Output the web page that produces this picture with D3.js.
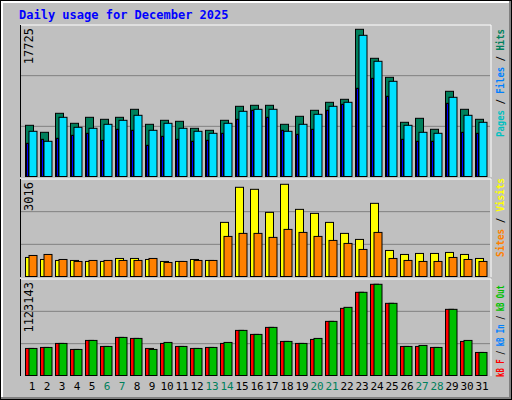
<!DOCTYPE html>
<html><head><meta charset="utf-8">
<script src="https://cdn.jsdelivr.net/npm/d3@7"></script>
<style>body{margin:0;background:#fff}svg{display:block}</style>
</head><body>
<script>
const days = d3.range(1, 32);
const weekends = [6,7,13,14,20,21,27,28];
const hits  = [6165,5322,7610,6406,7128,6888,7128,8092,6286,6767,6647,5804,5563,6767,8453,8573,8573,6286,7249,7971,8935,9296,17725,14233,11945,6526,7008,5684,10259,8092,6888];
const files = [5443,4239,7128,5924,5804,6286,6767,7369,5563,6406,5804,5443,5202,6406,7851,8092,8092,5443,6286,7490,8453,8935,17002,13872,11463,6165,5322,5202,9537,7369,6526];
const pages = [3998,4479,4600,4961,5202,4359,5684,5563,3757,4841,4479,4239,4359,5202,6888,7971,7128,5563,5082,5684,7971,8694,10620,11825,9657,4479,4239,4239,8814,5322,5202];
const visits= [623,557,525,525,492,492,590,590,557,492,492,557,525,1770,2918,2852,2098,3016,2196,2065,1770,1410,1213,2393,852,721,754,754,787,721,590];
const sites = [688,721,557,492,525,525,525,525,590,459,492,525,525,1311,1410,1410,1279,1541,1442,1311,1180,1082,885,1442,590,525,492,492,623,557,492];
const kbF   = [333241,345583,394952,320900,431979,357925,469006,456664,333241,394952,357925,333241,345583,394952,555402,506034,592427,419637,394952,444321,666480,826930,1024408,1123143,888640,357925,357925,345583,814588,419637,283872];
const kbIn  = days.map(()=>0);
const kbOut = [333241,345583,394952,320900,431979,357925,469006,456664,320900,407294,357925,333241,345583,407294,555402,506034,592427,419637,394952,456664,666480,839272,1024408,1123143,888640,357925,370267,345583,814588,431979,283872];
const maxLabels = ["17725","3016","1123143"];

const W=512,H=400;
const svg=d3.select("body").append("svg").attr("width",W).attr("height",H);
const font="'DejaVu Sans Mono', monospace";
svg.append("rect").attr("x",0).attr("y",0).attr("width",W).attr("height",H).attr("fill","#000");
svg.append("rect").attr("x",1).attr("y",1).attr("width",W-2).attr("height",H-2).attr("fill","#808080");
svg.append("rect").attr("x",1).attr("y",1).attr("width",W-4).attr("height",H-4).attr("fill","#fff");
svg.append("rect").attr("x",3).attr("y",3).attr("width",W-6).attr("height",H-6).attr("fill","#C0C0C0");

svg.append("text").attr("x",19).attr("y",19).text("Daily usage for December 2025")
  .attr("font-family",font).attr("font-weight","bold").attr("font-size",12).attr("fill","#0000FF");

const x=d3.scaleBand().domain(days).range([21,486]);
const panels=[
  {y0:25,y1:177,top:29.3,max:17725,lab:maxLabels[0]},
  {y0:179,y1:277,top:184.3,max:3016,lab:maxLabels[1]},
  {y0:279,y1:376,top:284.3,max:1123143,lab:maxLabels[2]}
];
panels.forEach(p=>{
  svg.append("rect").attr("x",20).attr("y",p.y0).attr("width",471).attr("height",p.y1-p.y0).attr("fill","#C0C0C0");
  svg.append("line").attr("x1",20).attr("x2",491).attr("y1",p.y0).attr("y2",p.y0).attr("stroke","#fff");
  svg.append("line").attr("x1",491).attr("x2",491).attr("y1",p.y0).attr("y2",p.y1).attr("stroke","#fff");
  svg.append("line").attr("x1",20.5).attr("x2",20.5).attr("y1",p.y0).attr("y2",p.y1).attr("stroke","#000");
  const h=p.y1-p.y0;
  [1,2].forEach(k=>svg.append("line").attr("x1",21).attr("x2",490).attr("y1",p.y0+h*k/3).attr("y2",p.y0+h*k/3).attr("stroke","#808080").attr("stroke-width",1));
  p.y=d3.scaleLinear().domain([0,p.max]).range([p.y1-0.5,p.top]);
  svg.append("text").attr("transform",`translate(33,${p.y0+3}) rotate(-90)`).attr("text-anchor","end")
    .attr("font-family",font).attr("font-size",12).attr("fill","#000").text(p.lab);
});

function bars(p,data,off,w,color){
  svg.append("g").selectAll("rect").data(data).join("rect")
    .attr("x",(d,i)=>x(days[i])+off).attr("y",d=>p.y(d)).attr("width",w)
    .attr("height",d=>Math.max(0,p.y(0)-p.y(d))).attr("fill",color).attr("stroke","#000").attr("stroke-width",1);
}
bars(panels[0],hits,4.5,8,"#00805C");
bars(panels[0],files,8,8,"#00E0FF");
bars(panels[0],pages,5.5,2,"#0000FF");
bars(panels[1],visits,4.5,8,"#FFFF00");
bars(panels[1],sites,8,8,"#FF8000");
bars(panels[2],kbF,4.5,8,"#FF0000");
bars(panels[2],kbIn,6,8,"#0080FF");
bars(panels[2],kbOut,8,8,"#00C000");

svg.append("g").selectAll("text").data(days).join("text")
  .attr("x",d=>x(d)+11).attr("y",390).attr("text-anchor","middle")
  .attr("font-family",font).attr("font-size",11)
  .attr("fill",d=>weekends.includes(d)?"#00805C":"#000").text(d=>d);

function rlabel(yStart,len,parts){
  const t=svg.append("text").attr("transform",`translate(504,${yStart}) rotate(-90)`)
    .attr("font-family",font).attr("font-size",11).attr("font-weight","bold")
    .attr("textLength",len).attr("lengthAdjust","spacingAndGlyphs");
  parts.forEach(([s,c])=>t.append("tspan").attr("fill",c).text(s));
}
rlabel(137,108,[["Pages","#00C0C0"],[" / ","#000"],["Files","#0080FF"],[" / ","#000"],["Hits","#00805C"]]);
rlabel(257,79,[["Sites","#FF8000"],[" / ","#000"],["Visits","#FFFF00"]]);
rlabel(377,92,[["kB F","#FF0000"],[" / ","#000"],["kB In","#0080FF"],[" / ","#000"],["kB Out","#00C000"]]);
</script>
</body></html>
